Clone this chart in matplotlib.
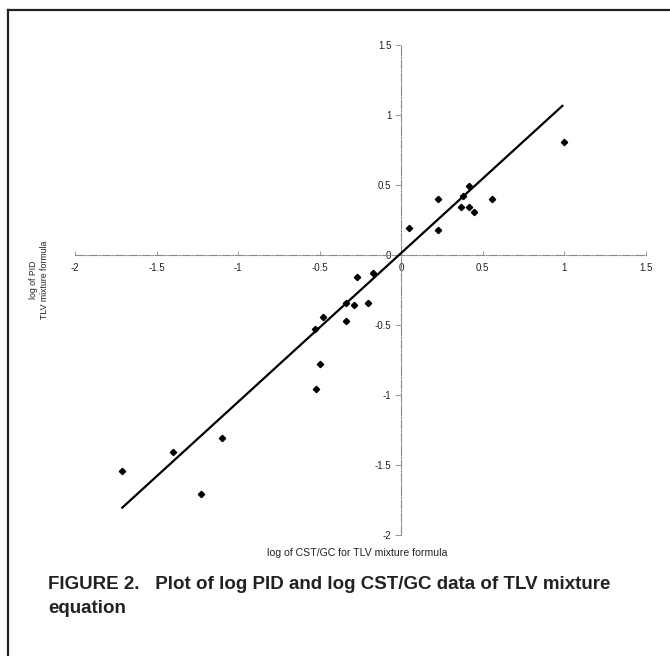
import matplotlib
matplotlib.use("Agg")
import matplotlib.pyplot as plt
import numpy as np
from matplotlib.ticker import FuncFormatter
from matplotlib.lines import Line2D

plt.rcParams['font.family'] = ['Liberation Sans', 'DejaVu Sans']
plt.rcParams['axes.unicode_minus'] = False

# ---- data ----
log_cst_gc = [-1.71, -1.40, -1.10, -1.23, -0.52, -0.50, -0.53, -0.48, -0.34, -0.34,
              -0.29, -0.27, -0.20, -0.17, 0.05, 0.23, 0.23, 0.37, 0.38, 0.42,
              0.42, 0.45, 0.56, 1.00]
log_pid = [-1.54, -1.41, -1.31, -1.71, -0.96, -0.78, -0.53, -0.44, -0.47, -0.34,
           -0.36, -0.16, -0.34, -0.13, 0.19, 0.40, 0.18, 0.34, 0.42, 0.49,
           0.34, 0.31, 0.40, 0.81]
fit_slope = 1.063
fit_intercept = 0.013
fit_x_range = [-1.71, 0.99]
x_ticks = [-2, -1.5, -1, -0.5, 0, 0.5, 1, 1.5]
y_ticks = [-2, -1.5, -1, -0.5, 0, 0.5, 1, 1.5]

W, H = 670, 656
fig = plt.figure(figsize=(W / 100, H / 100), dpi=100)
fig.patch.set_facecolor('white')

# axes placement in pixels: x -2 -> 75, 1.5 -> 645 ; y 1.5 -> 45, -2 -> 535
left, right = 75, 645.5
top, bottom = 45, 535
ax = fig.add_axes([left / W, 1 - bottom / H, (right - left) / W, (bottom - top) / H])
ax.set_xlim(-2, 1.5)
ax.set_ylim(-2, 1.5)
ax.patch.set_alpha(0)

for s in ['top', 'right']:
    ax.spines[s].set_visible(False)
ax.spines['left'].set_position(('data', 0))
ax.spines['bottom'].set_position(('data', 0))
for s in ['left', 'bottom']:
    ax.spines[s].set_color('#8a8a8a')
    ax.spines[s].set_linewidth(0.8)
    ax.spines[s].set_linestyle((0, (8, 1.5, 1, 1.5)))

ax.set_xticks(x_ticks)
ax.set_yticks(y_ticks)
fmt = FuncFormatter(lambda v, p: ('%g' % v))
ax.xaxis.set_major_formatter(fmt)
ax.yaxis.set_major_formatter(fmt)
ax.tick_params(axis='x', direction='in', length=3, width=0.6, color='#8a8a8a',
               labelsize=7, pad=6, labelcolor='#222222')
ax.tick_params(axis='y', direction='out', length=4, width=0.6, color='#8a8a8a',
               labelsize=7, pad=3, labelcolor='#222222')

# regression line
fx = np.array(fit_x_range)
ax.plot(fx, fit_slope * fx + fit_intercept, color='black', lw=1.6, clip_on=False, zorder=3)
# data points
ax.plot(log_cst_gc, log_pid, linestyle='none', marker='D', ms=3.2, color='black',
        clip_on=False, zorder=4)

# axis labels
fig.text(357 / W, 1 - 553 / H, 'log of CST/GC for TLV mixture formula', ha='center',
         va='center', fontsize=7.6, color='#222222')
fig.text(39 / W, 1 - 280 / H, 'log of PID\nTLV mixture formula', ha='center', va='center',
         rotation=90, fontsize=6.3, color='#222222', multialignment='center', linespacing=1.3)

# caption
fig.text(48 / W, 1 - 576 / H,
         'FIGURE 2.   Plot of log PID and log CST/GC data of TLV mixture\nequation',
         ha='left', va='top', fontsize=13.5, fontweight='bold', color='#222222',
         linespacing=1.55)

# frame (left and top)
fig.add_artist(Line2D([8 / W, 8 / W], [0, 1 - 10 / H], transform=fig.transFigure,
                      color='#222222', lw=1.6))
fig.add_artist(Line2D([8 / W, 1], [1 - 10 / H, 1 - 10 / H], transform=fig.transFigure,
                      color='#222222', lw=1.6))

fig.savefig('out.png', dpi=100)
